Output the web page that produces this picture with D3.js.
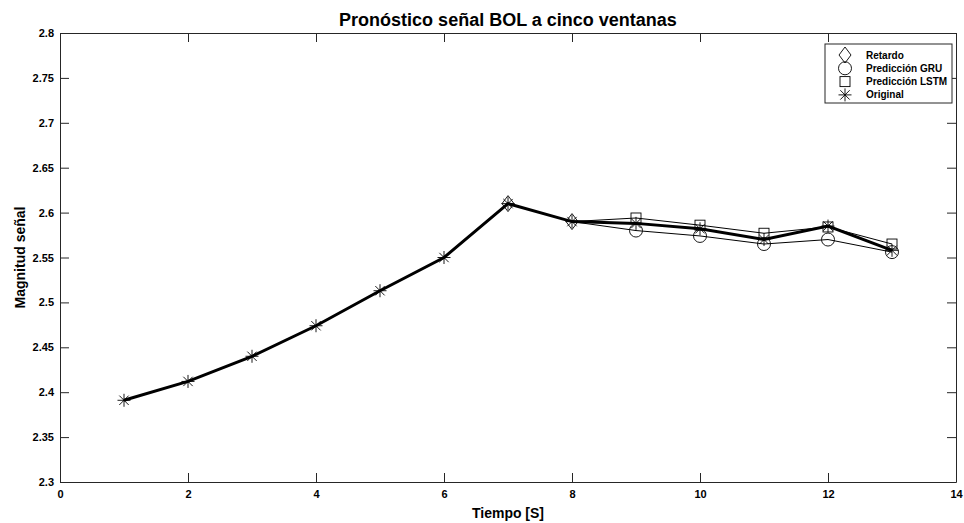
<!DOCTYPE html>
<html>
<head>
<meta charset="utf-8">
<script src="https://cdn.jsdelivr.net/npm/d3@7"></script>
<style>
  body { margin: 0; background: #fff; }
  svg { display: block; font-family: "Liberation Sans", Arial, sans-serif; }
</style>
</head>
<body>
<svg width="964" height="523"></svg>
<script>
// data
const tiempo = [1, 2, 3, 4, 5, 6, 7, 8, 9, 10, 11, 12, 13];
const original = [2.391, 2.412, 2.44, 2.474, 2.513, 2.55, 2.61, 2.59, 2.588, 2.582, 2.57, 2.585, 2.558];
const retardoX = [7, 8];
const retardo = [2.61, 2.59];
// predictions start from the last known point (x=8), which has no marker of its own
const predX = [8, 9, 10, 11, 12, 13];
const gru = [2.59, 2.58, 2.574, 2.565, 2.57, 2.556];
const lstm = [2.59, 2.594, 2.586, 2.577, 2.584, 2.565];
const xTicks = [0, 2, 4, 6, 8, 10, 12, 14];
const yTicks = [2.3, 2.35, 2.4, 2.45, 2.5, 2.55, 2.6, 2.65, 2.7, 2.75, 2.8];
const legendNames = ['Retardo', 'Predicción GRU', 'Predicción LSTM', 'Original'];

const svg = d3.select('svg');
const m = {left: 60, right: 956, top: 33, bottom: 482};
const axisColor = '#262626';

const x = d3.scaleLinear().domain([0, 14]).range([m.left, m.right]);
const y = d3.scaleLinear().domain([2.3, 2.8]).range([m.bottom, m.top]);

// axes, ticks inward like matlab
const tickLen = 9;
const gx = svg.append('g').attr('transform', `translate(0,${m.bottom})`)
    .call(d3.axisBottom(x).tickValues(xTicks).tickSizeInner(-tickLen).tickSizeOuter(0).tickPadding(8).tickFormat(d3.format('d')));
const gxTop = svg.append('g').attr('transform', `translate(0,${m.top})`)
    .call(d3.axisTop(x).tickValues(xTicks).tickSizeInner(-tickLen).tickSizeOuter(0).tickFormat(''));
const gy = svg.append('g').attr('transform', `translate(${m.left},0)`)
    .call(d3.axisLeft(y).tickValues(yTicks).tickSizeInner(-tickLen).tickSizeOuter(0).tickPadding(6).tickFormat(d => d3.format('')(+d.toFixed(2))));
const gyRight = svg.append('g').attr('transform', `translate(${m.right},0)`)
    .call(d3.axisRight(y).tickValues(yTicks).tickSizeInner(-tickLen).tickSizeOuter(0).tickFormat(''));

[gx, gxTop, gy, gyRight].forEach(g => {
    g.selectAll('.domain').attr('stroke', axisColor);
    g.selectAll('line').attr('stroke', axisColor);
    g.selectAll('text').attr('fill', '#000').style('font-size', '11px').style('font-weight', 'bold');
});

// labels
svg.append('text').attr('x', (m.left + m.right) / 2).attr('y', 26)
    .attr('text-anchor', 'middle').style('font-size', '18px').style('font-weight', 'bold')
    .text('Pronóstico señal BOL a cinco ventanas');
svg.append('text').attr('x', (m.left + m.right) / 2).attr('y', 518)
    .attr('text-anchor', 'middle').style('font-size', '14px').style('font-weight', 'bold')
    .text('Tiempo [S]');
svg.append('text').attr('transform', `translate(25,${(m.top + m.bottom) / 2}) rotate(-90)`)
    .attr('text-anchor', 'middle').style('font-size', '14px').style('font-weight', 'bold')
    .text('Magnitud señal');

const line = d3.line().x(d => x(d[0])).y(d => y(d[1]));
const zip = (xs, ys) => xs.map((v, i) => [v, ys[i]]);

// marker drawers
const markers = {
    diamond: (g, cx, cy) => g.append('path')
        .attr('d', `M${cx},${cy - 8}L${cx + 6},${cy}L${cx},${cy + 8}L${cx - 6},${cy}Z`),
    circle: (g, cx, cy) => g.append('circle').attr('cx', cx).attr('cy', cy).attr('r', 6.5),
    square: (g, cx, cy) => g.append('rect').attr('x', cx - 5).attr('y', cy - 5).attr('width', 10).attr('height', 10),
    star: (g, cx, cy) => {
        const r = 6.5;
        let d = `M${cx - r},${cy}L${cx + r},${cy}M${cx},${cy - r}L${cx},${cy + r}`;
        const k = r * 0.72;
        d += `M${cx - k},${cy - k}L${cx + k},${cy + k}M${cx - k},${cy + k}L${cx + k},${cy - k}`;
        return g.append('path').attr('d', d);
    }
};

const plot = svg.append('g').attr('fill', 'none').attr('stroke', '#000');

const series = [
    {data: zip(predX, lstm), width: 1, marker: 'square', skipFirst: true},
    {data: zip(predX, gru), width: 1, marker: 'circle', skipFirst: true},
    {data: zip(retardoX, retardo), width: 1, marker: 'diamond', skipFirst: false},
    {data: zip(tiempo, original), width: 3, marker: 'star', skipFirst: false}
];

series.forEach(s => {
    plot.append('path').datum(s.data).attr('d', line).attr('stroke-width', s.width);
});
series.forEach(s => {
    const g = plot.append('g').attr('stroke-width', 0.9);
    s.data.forEach((d, i) => {
        if (s.skipFirst && i === 0) return;
        markers[s.marker](g, x(d[0]), y(d[1]));
    });
});

// legend
const lg = svg.append('g');
lg.append('rect').attr('x', 825).attr('y', 44).attr('width', 127).attr('height', 59)
    .attr('fill', '#fff').attr('stroke', axisColor).attr('stroke-width', 1);
const legendMarkers = ['diamond', 'circle', 'square', 'star'];
legendNames.forEach((name, i) => {
    const cy = 55 + i * 13.3;
    const g = lg.append('g').attr('fill', 'none').attr('stroke', '#000').attr('stroke-width', 0.9);
    markers[legendMarkers[i]](g, 845, cy);
    lg.append('text').attr('x', 866).attr('y', cy + 3.5)
        .style('font-size', '10px').style('font-weight', 'bold').text(name);
});
</script>
</body>
</html>
